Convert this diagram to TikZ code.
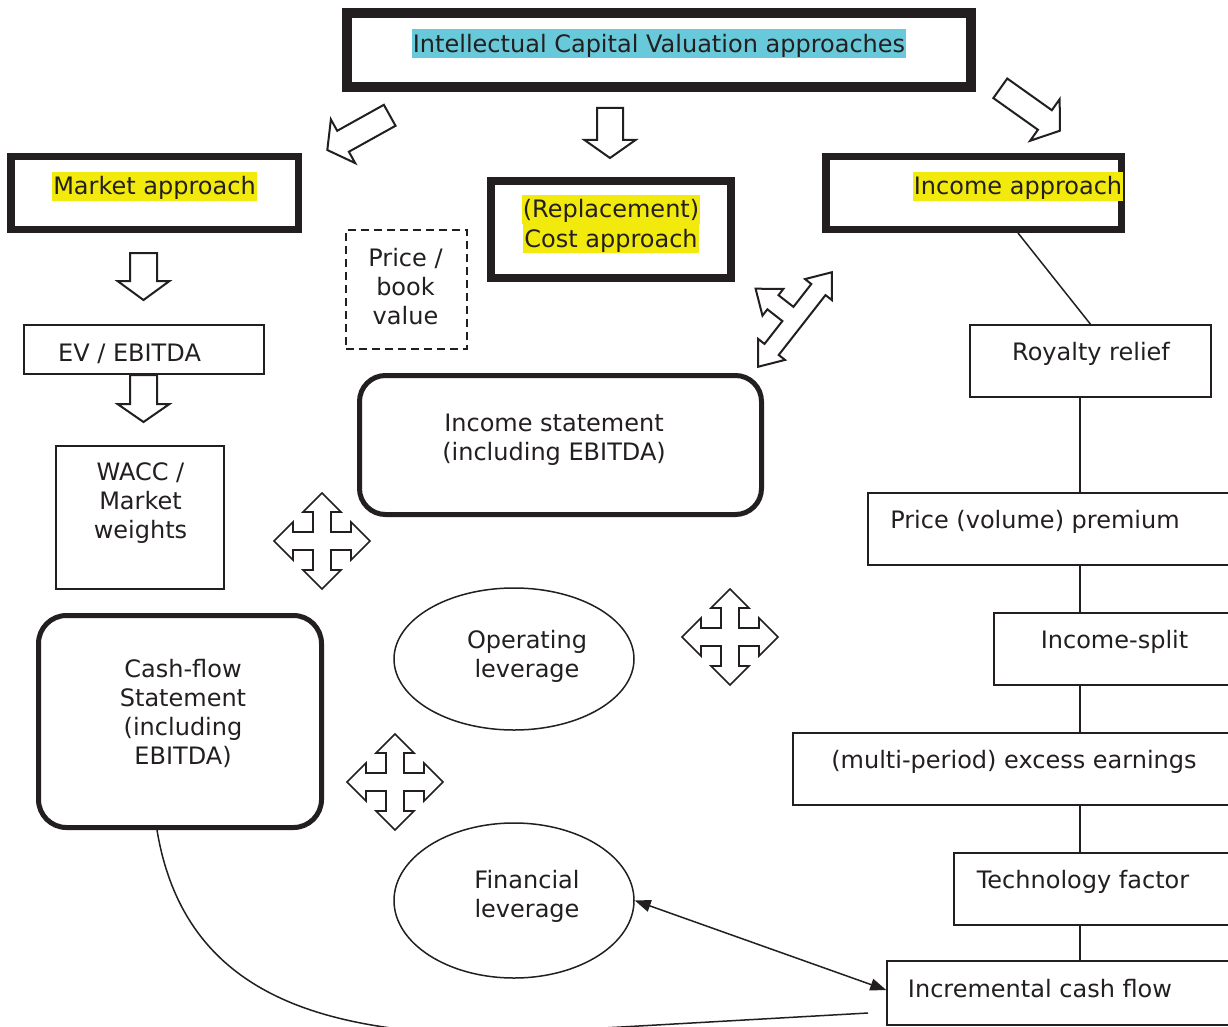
\documentclass[tikz,border=0pt]{standalone}
\usepackage{fontspec}
\setmainfont{DejaVu Sans}
\usetikzlibrary{arrows.meta,calc,shapes.geometric}
\definecolor{ink}{HTML}{231F20}
\definecolor{hlcyan}{HTML}{67C9D9}
\definecolor{hlyellow}{HTML}{F2EA0C}
\newcommand{\hlbox}[2]{{\setlength{\fboxsep}{0pt}\colorbox{#1}{\rule[-6pt]{0pt}{29pt}\kern1pt#2\kern1pt}}}
\begin{document}
\begin{tikzpicture}[x=1pt,y=-1pt,
  font=\fontsize{24}{29}\selectfont,
  heavy/.style={draw=ink, rectangle, inner sep=0pt},
  thinbox/.style={draw=ink, line width=1.5pt, rectangle, inner sep=0pt},
  roundbox/.style={draw=ink, line width=5pt, rounded corners=26pt, inner sep=0pt},
  ell/.style={draw=ink, line width=1.5pt, ellipse, inner sep=0pt},
  dashbox/.style={draw=ink, line width=1.4pt, dash pattern=on 8pt off 5pt, inner sep=0pt},
  lbl/.style={inner sep=0pt, align=center, text=ink},
  conn/.style={draw=ink, line width=1.5pt},
  blk/.style={draw=ink, line width=2pt, fill=white, line join=miter},
  pics/barrow/.style n args={4}{code={
    \draw[blk] (0,-#2) -- ({#1-#4},-#2) -- ({#1-#4},-#3) -- (#1,0) -- ({#1-#4},#3) -- ({#1-#4},#2) -- (0,#2) -- cycle;}},
  pics/quadarrow/.style={code={
    \draw[blk, line width=1.6pt] (0,-48) -- (19,-29) -- (9,-29) -- (9,-9) -- (29,-9) -- (29,-19) -- (48,0) -- (29,19) -- (29,9) -- (9,9) -- (9,29) -- (19,29) -- (0,48) -- (-19,29) -- (-9,29) -- (-9,9) -- (-29,9) -- (-29,19) -- (-48,0) -- (-29,-19) -- (-29,-9) -- (-9,-9) -- (-9,-29) -- (-19,-29) -- cycle;}},
  pics/yarrow/.style={code={
    \draw[blk] (60,0) -- (38,17) -- (38,9) -- (-38,9) -- (-38,17) -- (-60,0) -- (-38,-17) -- (-38,-9) -- (-9,-9) -- (-9,-28) -- (-17,-28) -- (0,-50) -- (17,-28) -- (9,-28) -- (9,-9) -- (38,-9) -- (38,-17) -- cycle;}}
]
\useasboundingbox (0,0) rectangle (1228,1027);
\clip (0,0) rectangle (1228,1027);
\fill[white] (0,0) rectangle (1228,1027);

% heavy boxes
\node[heavy, line width=10pt, minimum width=624pt, minimum height=74pt] (top) at (659,50) {};
\node[lbl] (toptxt) at (659,44) {\hlbox{hlcyan}{Intellectual Capital Valuation approaches}};
\node[heavy, line width=7.5pt, minimum width=287.5pt, minimum height=72.5pt] (mkt) at (154.5,193) {};
\node[lbl] (mkttxt) at (154.5,186) {\hlbox{hlyellow}{Market approach}};
\node[heavy, line width=8pt, minimum width=240pt, minimum height=97pt] (cost) at (611,229.5) {};
\node[lbl] (costtxt) at (611,224) {\hlbox{hlyellow}{(Replacement)}\\\hlbox{hlyellow}{Cost approach}};
\node[heavy, line width=7.5pt, minimum width=295.5pt, minimum height=72.5pt] (inc) at (973.5,193) {};
\node[lbl] (inctxt) at (1018,186) {\hlbox{hlyellow}{Income approach}};

% block arrows
\pic[rotate=209.1] at (389.7,115.3) {barrow={71.4}{12}{25}{18}};
\pic[rotate=-90] at (610,108) {barrow={50}{13}{25.5}{18}};
\pic[rotate=-35.4] at (1000.3,88.3) {barrow={73.2}{12}{25.5}{18.5}};
\pic[rotate=-90] at (143.5,253) {barrow={47}{13.5}{26}{19}};
\pic[rotate=-90] at (143.5,375) {barrow={47}{13.5}{26}{18}};

% left column
\node[thinbox, minimum width=240pt, minimum height=49pt] (ev) at (144,349.5) {};
\node[lbl] (evtxt) at (129.5,354) {EV / EBITDA};
\node[thinbox, minimum width=168pt, minimum height=143pt] (wacc) at (140,517.5) {};
\node[lbl] (wacctxt) at (140.5,503) {WACC /\\Market\\weights};
\node[dashbox, minimum width=121pt, minimum height=119pt] (pb) at (406.5,289.5) {};
\node[lbl] (pbtxt) at (405.5,287) {Price /\\book\\value};
\node[roundbox, minimum width=402pt, minimum height=139pt] (is) at (560.5,445) {};
\node[lbl] (istxt) at (554,440) {Income statement\\(including EBITDA)};
\node[roundbox, rounded corners=28pt, minimum width=283pt, minimum height=212pt] (cf) at (180,721.5) {};
\node[lbl] (cftxt) at (183,713) {Cash-flow\\Statement\\(including\\EBITDA)};
\node[ell, minimum width=240pt, minimum height=142pt] (ol) at (514,659) {};
\node[lbl] (oltxt) at (527,656) {Operating\\leverage};
\node[ell, minimum width=240pt, minimum height=155pt] (fl) at (514,900.5) {};
\node[lbl] (fltxt) at (527,896) {Financial\\leverage};

% quad arrows and the bent double arrow
\pic at (322,541) {quadarrow};
\pic at (730,637) {quadarrow};
\pic at (395,782) {quadarrow};
\pic[rotate=52] at (795,319.5) {yarrow};

% right column
\node[thinbox, minimum width=241pt, minimum height=72pt] (rr) at (1090.5,361) {};
\node[lbl] (rrtxt) at (1091,354) {Royalty relief};
\node[thinbox, minimum width=372pt, minimum height=72pt] (pv) at (1054,529) {};
\node[lbl] (pvtxt) at (1035,522) {Price (volume) premium};
\node[thinbox, minimum width=246pt, minimum height=72pt] (is2) at (1117,649) {};
\node[lbl] (is2txt) at (1114.5,642) {Income-split};
\node[thinbox, minimum width=447pt, minimum height=72pt] (ee) at (1016.5,769) {};
\node[lbl] (eetxt) at (1014,762) {(multi-period) excess earnings};
\node[thinbox, minimum width=286pt, minimum height=72pt] (tf) at (1097,889) {};
\node[lbl] (tftxt) at (1083,882) {Technology factor};
\node[thinbox, minimum width=353pt, minimum height=64pt] (icf) at (1063.5,993) {};
\node[lbl] (icftxt) at (1040,989) {Incremental cash flow};

% connectors
\coordinate (vx) at (1080,0);
\draw[conn] ([xshift=44.5pt]inc.south) -- (rr.north);
\draw[conn] (rr.south -| vx) -- (pv.north -| vx);
\draw[conn] (pv.south -| vx) -- (is2.north -| vx);
\draw[conn] (is2.south -| vx) -- (ee.north -| vx);
\draw[conn] (ee.south -| vx) -- (tf.north -| vx);
\draw[conn] (tf.south -| vx) -- (icf.north -| vx);
\draw[conn, {Triangle[length=16pt,width=12pt]}-{Triangle[length=16pt,width=12pt]}] (fl.east) -- ([yshift=3pt]icf.west);
\coordinate (curveend) at (868,1013);
\draw[conn] ([xshift=-23pt]cf.south) .. controls (185,1000) and (330,1030) .. (480,1035) -- (curveend);
\end{tikzpicture}
\end{document}
